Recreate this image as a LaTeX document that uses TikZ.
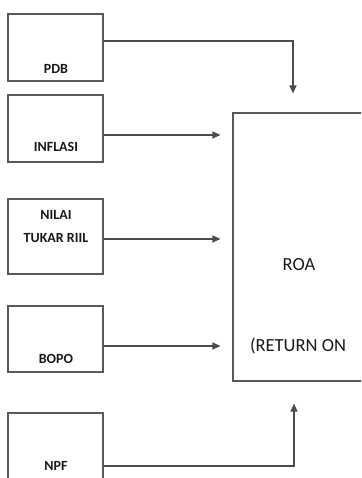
\documentclass[tikz,border=0pt]{standalone}
\usepackage{fontspec}
\setmainfont{Carlito}
\usetikzlibrary{arrows.meta,positioning}

\begin{document}
\begin{tikzpicture}[x=1pt, y=-1pt, thick,
    box/.style = {draw=black!65, line width=1.1pt, minimum width=95pt, inner sep=0pt},
    lbl/.style = {font=\fontsize{14}{23}\selectfont\bfseries, text=black!90, inner sep=0pt, align=center},
    big/.style = {font=\fontsize{18.5}{22}\selectfont, text=black!90, inner sep=0pt},
    conn/.style = {draw=black!70, line width=1.1pt, -{Triangle[length=8pt,width=7pt]}}]
    \useasboundingbox[clip] (0,0) rectangle (361,478);

    \node[box, minimum height=67pt] (pdb) at (55.5,47.5) {};
    \node[box, minimum height=67pt] (inflasi) at (55.5,128.5) {};
    \node[box, minimum height=75pt] (nilai) at (55.5,236.5) {};
    \node[box, minimum height=66pt] (bopo) at (55.5,339) {};
    \node[box, minimum height=67pt] (npf) at (55.5,446.5) {};
    \node[box, minimum width=160pt, minimum height=268pt] (roa) at (313,247) {};

    \node[lbl] (pdbtxt) at (56,69) {PDB};
    \node[lbl] (inflasitxt) at (56,147) {INFLASI};
    \node[lbl] (nilaitxt) at (56,226.5) {NILAI\\TUKAR RIIL};
    \node[lbl] (bopotxt) at (56,359) {BOPO};
    \node[lbl] (npftxt) at (56,466) {NPF};
    \node[big] (roatxt) at (299,265) {ROA};
    \node[big] (returntxt) at (298,346) {(RETURN ON};

    \draw[conn, shorten >=19pt] ([yshift=6.5pt]pdb.east) -| ([xshift=-20pt]roa.north);
    \draw[conn, shorten >=12pt] ([yshift=-6.5pt]inflasi.east) -- ([yshift=-6.5pt]inflasi.east -| roa.west);
    \draw[conn, shorten >=12pt] ([yshift=-2.5pt]nilai.east) -- ([yshift=-2.5pt]nilai.east -| roa.west);
    \draw[conn, shorten >=12pt] ([yshift=-7pt]bopo.east) -- ([yshift=-7pt]bopo.east -| roa.west);
    \draw[conn, shorten >=22pt] ([yshift=-19.5pt]npf.east) -| ([xshift=-19pt]roa.south);

\end{tikzpicture}
\end{document}
